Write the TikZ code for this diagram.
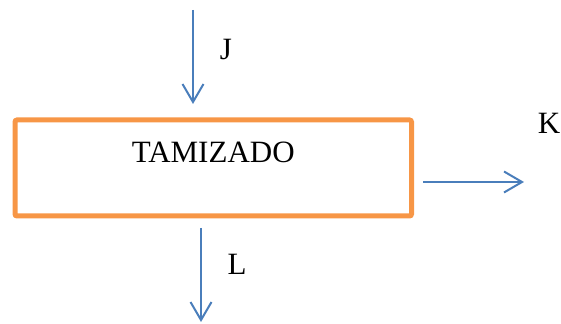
\documentclass[tikz,border=0pt]{standalone}
\usepackage{fontspec}
\setmainfont{Liberation Serif}
\usetikzlibrary{arrows.meta,positioning}

\definecolor{boxorange}{HTML}{F79646}
\definecolor{flowblue}{HTML}{4A7EBB}

\tikzset{
  procbox/.style={draw=boxorange,line width=2.5pt,rounded corners=1pt,
    minimum width=198.25pt,minimum height=48pt,
    text height=10.5pt,text depth=15.5pt},
  flow/.style={->,draw=flowblue,line width=1pt},
  flowlabel/.style={inner sep=0pt}
}

\begin{document}
\begin{tikzpicture}[x=0.5pt,y=-0.5pt,>={Straight Barb[length=9pt,width=10.5pt]},
  every node/.style={font=\fontsize{15.5}{18}\selectfont}]
  \useasboundingbox (0,0) rectangle (561,324);

  % Process box
  \node[procbox] (tamizado) at (213.25,168) {TAMIZADO};

  % Stream end points
  \coordinate (jin) at (193,10);
  \coordinate (jend) at (193,104);
  \coordinate (kin) at (423,182);
  \coordinate (kend) at (524,182);
  \coordinate (lin) at (201,228);
  \coordinate (lend) at (201,322);

  % Streams
  \draw[flow] (jin) -- (jend);
  \draw[flow] (kin) -- (kend);
  \draw[flow] (lin) -- (lend);

  % Stream labels
  \node[flowlabel] (jlab) at (226,50) {J};
  \node[flowlabel] (klab) at (549,123) {K};
  \node[flowlabel] (llab) at (237,264) {L};
\end{tikzpicture}
\end{document}
